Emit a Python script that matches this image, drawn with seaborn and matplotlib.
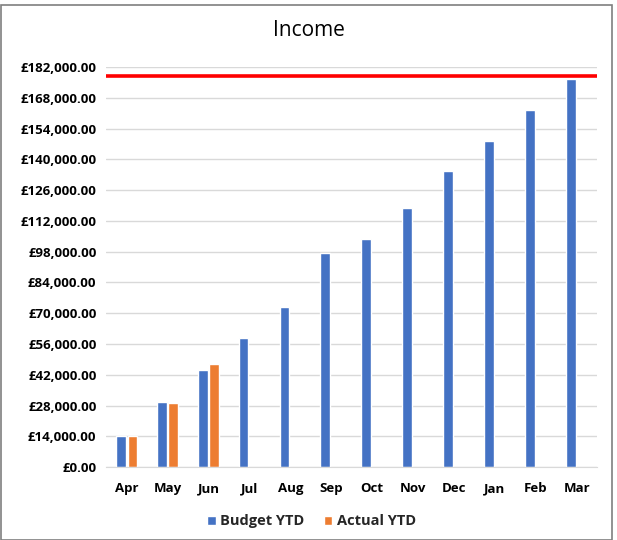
import numpy as np
import pandas as pd
import matplotlib
matplotlib.use('agg')
import matplotlib.pyplot as plt
import seaborn as sns
from matplotlib.ticker import FuncFormatter, MultipleLocator
from matplotlib.patches import Rectangle

months = ['Apr', 'May', 'Jun', 'Jul', 'Aug', 'Sep', 'Oct', 'Nov', 'Dec', 'Jan', 'Feb', 'Mar']
budget_ytd = [14300, 29500, 44000, 58700, 72900, 97200, 103600, 117700, 134500, 148400, 162400, 176700]
actual_ytd = [14300, 29000, 46900, np.nan, np.nan, np.nan, np.nan, np.nan, np.nan, np.nan, np.nan, np.nan]
target = 177900

df = pd.DataFrame({
    'Month': months * 2,
    'Value': budget_ytd + actual_ytd,
    'Series': ['Budget YTD'] * 12 + ['Actual YTD'] * 12,
})

sns.set_style('white')
plt.rcParams['font.family'] = ['Open Sans', 'DejaVu Sans']

fig = plt.figure(figsize=(6.17, 5.40), dpi=100)
ax = fig.add_axes([0.172, 0.135, 0.796, 0.741])

sns.barplot(data=df, x='Month', y='Value', hue='Series', order=months,
            palette=['#4472C4', '#ED7D31'], width=0.57, gap=0.16,
            saturation=1, ax=ax, legend=True)

ax.axhline(target, color='#FF0000', lw=2.6, zorder=5)

ax.set_ylim(0, 182000)
ax.yaxis.set_major_locator(MultipleLocator(14000))
ax.yaxis.set_major_formatter(FuncFormatter(lambda v, p: f'£{v:,.2f}'))
ax.grid(axis='y', color='#D9D9D9', lw=1)
ax.set_axisbelow(True)
for s in ['top', 'right', 'left']:
    ax.spines[s].set_visible(False)
ax.spines['bottom'].set_color('#D9D9D9')
ax.tick_params(axis='both', length=0, labelsize=9.5, pad=7, labelcolor='black')
for lab in ax.get_yticklabels() + ax.get_xticklabels():
    lab.set_fontweight('bold')
ax.tick_params(axis='x', pad=11)
ax.set_xlabel('')
ax.set_ylabel('')

# chart title is centred on the whole chart, not the plot area
fig.text(0.5, 0.943, 'Income', ha='center', va='center', fontsize=15, color='black')

handles, labels = ax.get_legend_handles_labels()
ax.get_legend().remove()
leg = fig.legend(handles, labels, loc='lower center', bbox_to_anchor=(0.505, -0.003), ncol=2,
                 frameon=False, fontsize=10.5, handlelength=0.6, handleheight=0.6,
                 handletextpad=0.3, columnspacing=1.3)
for t in leg.get_texts():
    t.set_fontweight('bold')

fig.patches.append(Rectangle((0.002, 0.0), 0.99, 0.99, transform=fig.transFigure,
                             fill=False, edgecolor='#7F7F7F', lw=1.2))

fig.savefig('out.png', dpi=100)
